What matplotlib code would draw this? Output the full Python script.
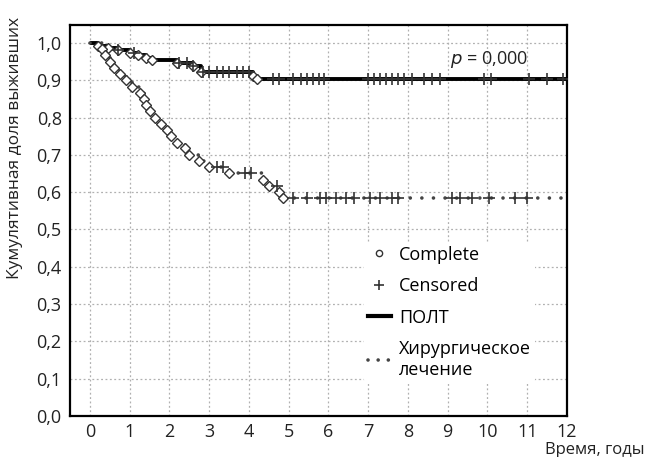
import numpy as np
import matplotlib
matplotlib.use("Agg")
import matplotlib.pyplot as plt
from matplotlib.lines import Line2D

plt.rcParams['font.family'] = ['Open Sans', 'DejaVu Sans']

# DATA
# ПОЛТ: event times and survival after each event
polt_t = [0.2, 0.45, 0.7, 1.0, 1.2, 1.4, 1.55, 2.2, 2.6, 2.8, 4.1, 4.2]
polt_s = [0.993, 0.987, 0.98, 0.973, 0.967, 0.96, 0.953, 0.945, 0.937, 0.922, 0.912, 0.902]
polt_cens = [0.7, 1.1, 2.25, 2.45, 2.6, 2.85, 3.0, 3.2, 3.35, 3.5, 3.7, 3.85, 4.0,
             4.6, 4.75, 5.1, 5.3, 5.45, 5.6, 5.75, 5.9, 7.0, 7.15, 7.3, 7.45, 7.6,
             7.75, 7.9, 8.1, 8.4, 8.6, 8.8, 9.9, 10.1, 11.05, 11.5, 11.9]

# Хирургическое лечение
surg_t = [0.3, 0.38, 0.5, 0.6, 0.75, 0.9, 1.05, 1.25, 1.35, 1.42, 1.5, 1.65, 1.8,
          1.95, 2.05, 2.2, 2.4, 2.5, 2.75, 3.0, 3.5, 4.35, 4.5, 4.75, 4.85]
surg_s = [0.983, 0.967, 0.95, 0.933, 0.917, 0.9, 0.883, 0.867, 0.85, 0.833, 0.817,
          0.8, 0.783, 0.767, 0.75, 0.733, 0.717, 0.7, 0.683, 0.667, 0.65, 0.633,
          0.617, 0.6, 0.583]
surg_cens = [3.2, 3.35, 3.9, 4.05, 4.7, 5.1, 5.45, 5.8, 5.95, 6.2, 6.45, 6.65, 7.05,
             7.3, 7.6, 7.75, 9.1, 9.3, 9.6, 10.05, 10.7, 11.0]

x_ticks = list(range(0, 13))
y_ticks = [round(0.1 * i, 1) for i in range(11)]
T_END = 12


def step_arrays(times, surv):
    xs, ys = [0.0], [1.0]
    for t, s in zip(times, surv):
        xs += [t, t]
        ys += [ys[-1], s]
    xs.append(T_END)
    ys.append(ys[-1])
    return xs, ys


def surv_at(times, surv, tc):
    idx = np.searchsorted(times, tc, side='right')
    vals = np.concatenate([[1.0], surv])
    return vals[idx]


fig = plt.figure(figsize=(6.49, 4.57), dpi=100)
ax = fig.add_axes([70 / 649, 1 - 416 / 457, (567 - 70) / 649, (416 - 25) / 457])

mcol = '#333333'
dots = (0, (0.01, 3.2))

# ПОЛТ
xs, ys = step_arrays(polt_t, polt_s)
ax.plot(xs, ys, color='black', lw=2.8, solid_capstyle='butt', zorder=3)
ax.plot(polt_t, polt_s, ls='none', marker='D', ms=5, mfc='white', mec=mcol, mew=1, zorder=4)
ax.plot(polt_cens, surv_at(polt_t, polt_s, polt_cens), ls='none', marker='+',
        ms=8, mec=mcol, mew=1.2, zorder=4)

# Хирургическое лечение
xs, ys = step_arrays(surg_t, surg_s)
ax.plot(xs, ys, color='#444444', lw=2.6, ls=dots, dash_capstyle='round', zorder=3)
ax.plot(surg_t, surg_s, ls='none', marker='D', ms=5, mfc='white', mec=mcol, mew=1, zorder=4)
ax.plot(surg_cens, surv_at(surg_t, surg_s, surg_cens), ls='none', marker='+',
        ms=8, mec=mcol, mew=1.2, zorder=4)

ax.set_xlim(-0.5, 12)
ax.set_ylim(0, 1.048)
ax.set_xticks(x_ticks)
ax.set_yticks(y_ticks)
ax.set_xticklabels([str(v) for v in x_ticks], fontsize=13, color='#222222')
ax.set_yticklabels([f'{v:.1f}'.replace('.', ',') for v in y_ticks], fontsize=13, color='#222222')
ax.tick_params(axis='x', length=0, pad=5)
ax.tick_params(axis='y', length=0, pad=6)
ax.grid(True, color='#b0b0b0', ls=(0, (1.5, 2)), lw=0.9)
ax.set_axisbelow(True)
for sp in ax.spines.values():
    sp.set_linewidth(1.6)
    sp.set_color('black')

ax.text(450 / 649, 1 - 60 / 457, '$p$ = 0,000', transform=fig.transFigure,
        fontsize=13, va='center', ha='left', color='#222222')

handles = [
    Line2D([], [], ls='none', marker='o', ms=4.5, mfc='white', mec=mcol, mew=1),
    Line2D([], [], ls='none', marker='+', ms=7, mec=mcol, mew=1.2),
    Line2D([], [], color='black', lw=3),
    Line2D([], [], color='#444444', lw=2.6, ls=(0, (0.01, 2.8)), dash_capstyle='round'),
]
labels = ['Complete', 'Censored', 'ПОЛТ', 'Хирургическое\nлечение']
leg = ax.legend(handles, labels, loc='upper left', bbox_to_anchor=(355 / 649, 1 - 233 / 457),
                bbox_transform=fig.transFigure, frameon=True, fontsize=13,
                handlelength=1.3, handletextpad=0.45, labelspacing=0.75, borderpad=0.2)
leg.get_frame().set_edgecolor('none')
leg.get_frame().set_facecolor('white')
leg.get_frame().set_alpha(1)

fig.text(15 / 649, 1 - 148 / 457, 'Кумулятивная доля выживших', rotation=90,
         fontsize=12.5, va='center', ha='center', color='#222222')
fig.text(645 / 649, 1 - 450 / 457, 'Время, годы', fontsize=12, va='center',
         ha='right', color='#222222')

fig.savefig('out.png', dpi=100, facecolor='white')
